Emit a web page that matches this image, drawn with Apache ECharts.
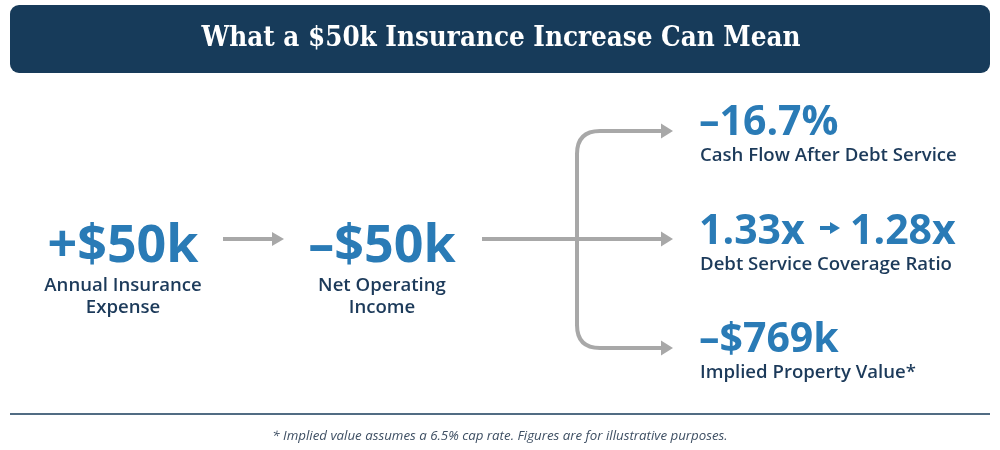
<!DOCTYPE html>
<html>
<head>
<meta charset="utf-8">
<script src="https://cdn.jsdelivr.net/npm/echarts@6/dist/echarts.min.js"></script>
<style>
  html, body { margin: 0; padding: 0; background: #ffffff; }
  #main { width: 1000px; height: 450px; }
</style>
</head>
<body>
<div id="main"></div>
<script>
// texts and values of the infographic
var titleText = 'What a $50k Insurance Increase Can Mean';
var flowValues = ['+$50k', '\u2013$50k'];
var flowLabels = ['Annual Insurance\nExpense', 'Net Operating\nIncome'];
var cashFlowChange = '\u201316.7%';
var dscrBefore = '1.33x';
var dscrAfter = '1.28x';
var valueChange = '\u2013$769k';
var impactLabels = ['Cash Flow After Debt Service', 'Debt Service Coverage Ratio', 'Implied Property Value*'];
var footnote = '* Implied value assumes a 6.5% cap rate. Figures are for illustrative purposes.';

var navy = '#173b5a';
var blue = '#2a7bb6';
var labelColor = '#1c3a5a';
var gray = '#a8a8a8';
var sans = "'Open Sans', 'Noto Sans', sans-serif";

var myChart = echarts.init(document.getElementById('main'));

function bigText(text, x, y, size, align) {
  return {
    type: 'text', x: x, y: y,
    style: {
      text: text, fill: blue, fontSize: size, fontWeight: 'bold', fontFamily: sans,
      align: align, verticalAlign: 'middle'
    }
  };
}
function smallText(text, x, y, align) {
  return {
    type: 'text', x: x, y: y,
    style: {
      text: text, fill: labelColor, fontSize: 18.6, fontWeight: 600, fontFamily: sans,
      align: align, verticalAlign: 'top', lineHeight: 22
    }
  };
}
function head(x, y, h, color) {
  return {
    type: 'polygon',
    shape: { points: [[x - 12, y - h], [x, y], [x - 12, y + h]] },
    style: { fill: color }
  };
}
function seg(x1, y1, x2, y2) {
  return { type: 'line', shape: { x1: x1, y1: y1, x2: x2, y2: y2 }, style: { stroke: gray, lineWidth: 4 } };
}
function corner(x1, y1, x2, y2, cx, cy) {
  return {
    type: 'bezierCurve',
    shape: { x1: x1, y1: y1, x2: x2, y2: y2, cpx1: cx, cpy1: cy },
    style: { stroke: gray, lineWidth: 4, fill: null }
  };
}

var leftX = [123, 382];
var elements = [
  // title bar
  { type: 'rect', shape: { x: 10, y: 5, width: 980, height: 68, r: 9 }, style: { fill: navy } },
  { type: 'text', x: 501, y: 39,
    style: { text: titleText, fill: '#ffffff', fontSize: 27.5, fontWeight: 'bold',
      fontFamily: "'DejaVu Serif Condensed', 'Liberation Serif', serif", align: 'center', verticalAlign: 'middle' } },

  // first arrow
  seg(223, 239, 273, 239),
  head(284, 239, 7, gray),

  // branching arrows
  seg(482, 239, 662, 239),
  seg(600, 131, 662, 131),
  seg(577, 153, 577, 326),
  seg(600, 348, 662, 348),
  corner(577, 154, 600, 131, 577, 131),
  corner(577, 325, 600, 348, 577, 348),
  head(673, 131, 7.5, gray),
  head(673, 239, 7.5, gray),
  head(673, 348, 7.5, gray),

  // right side values
  bigText(cashFlowChange, 699, 123, 41, 'left'),
  bigText(dscrBefore, 699, 232, 41, 'left'),
  { type: 'line', shape: { x1: 820, y1: 228, x2: 832, y2: 228 }, style: { stroke: blue, lineWidth: 4 } },
  { type: 'polygon', shape: { points: [[830, 222], [840, 228], [830, 234]] }, style: { fill: blue } },
  bigText(dscrAfter, 850, 232, 41, 'left'),
  bigText(valueChange, 699, 340, 41, 'left'),
  smallText(impactLabels[0], 700, 145, 'left'),
  smallText(impactLabels[1], 700, 254, 'left'),
  smallText(impactLabels[2], 700, 362, 'left'),

  // footer
  { type: 'line', shape: { x1: 10, y1: 414, x2: 990, y2: 414 }, style: { stroke: navy, lineWidth: 1.5 } },
  { type: 'text', x: 500, y: 436,
    style: { text: footnote, fill: '#3e4f63', fontSize: 13.3, fontStyle: 'italic', fontFamily: sans,
      align: 'center', verticalAlign: 'middle' } }
];

for (var i = 0; i < flowValues.length; i++) {
  elements.push(bigText(flowValues[i], leftX[i], 247, 52, 'center'));
  elements.push(smallText(flowLabels[i], leftX[i], 275, 'center'));
}

myChart.setOption({
  backgroundColor: '#ffffff',
  animation: false,
  graphic: { elements: elements }
});
</script>
</body>
</html>
